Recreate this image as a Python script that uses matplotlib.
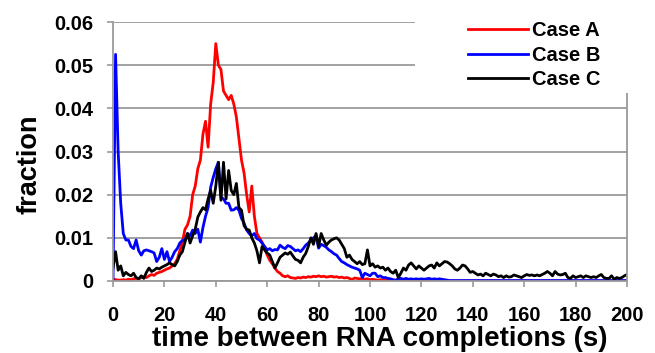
import numpy as np
import matplotlib
matplotlib.use("Agg")
import matplotlib.pyplot as plt
from matplotlib.patches import Rectangle

plt.rcParams['font.family'] = ['Liberation Sans', 'DejaVu Sans']

# time bins (s), 1 s wide
t = np.arange(0, 201)

case_a = [
    0.0005, 0.0003, 0.0002, 0.0002, 0.0003, 0.0002, 0.0004, 0.0003, 0.0005, 0.0006,
    0.0005, 0.0008, 0.0010, 0.0008, 0.0012, 0.0015, 0.0013, 0.0018, 0.0020, 0.0022,
    0.0025, 0.0028, 0.0030, 0.0035, 0.0040, 0.0050, 0.0070, 0.0090, 0.0120, 0.0130,
    0.0150, 0.0200, 0.0220, 0.0260, 0.0280, 0.0340, 0.0370, 0.0310, 0.0410, 0.0460,
    0.0550, 0.0500, 0.0490, 0.0440, 0.0430, 0.0420, 0.0430, 0.0410, 0.0380, 0.0330,
    0.0280, 0.0250, 0.0200, 0.0160, 0.0220, 0.0150, 0.0110, 0.0100, 0.0090, 0.0075,
    0.0060, 0.0048, 0.0040, 0.0030, 0.0022, 0.0018, 0.0012, 0.0010, 0.0012, 0.0008,
    0.0007, 0.0006, 0.0008, 0.0007, 0.0009, 0.0008, 0.0010, 0.0009, 0.0011, 0.0010,
    0.0012, 0.0010, 0.0011, 0.0009, 0.0010, 0.0011, 0.0009, 0.0010, 0.0008, 0.0009,
    0.0007, 0.0008, 0.0006, 0.0003, 0.0007, 0.0006, 0.0005, 0.0006, 0.0004, 0.0005,
    0.0003, 0.0004, 0.0003, 0.0002, 0.0003, 0.0002, 0.0001, 0.0002, 0.0001, 0.0001,
    0.0001, 0.0001, 0.0000, 0.0001, 0.0000, 0.0000, 0.0001, 0.0000, 0.0000, 0.0002,
    0.0001, 0.0000, 0.0000, 0.0000, 0.0000, 0.0000, 0.0000, 0.0000, 0.0000, 0.0000,
    0.0000, 0.0000, 0.0000, 0.0000, 0.0000, 0.0000, 0.0000, 0.0000, 0.0000, 0.0000,
    0.0000, 0.0000, 0.0000, 0.0000, 0.0000, 0.0000, 0.0000, 0.0000, 0.0000, 0.0000,
    0.0000, 0.0000, 0.0000, 0.0000, 0.0000, 0.0000, 0.0000, 0.0000, 0.0000, 0.0000,
    0.0000, 0.0000, 0.0000, 0.0000, 0.0000, 0.0000, 0.0000, 0.0000, 0.0000, 0.0000,
    0.0000, 0.0000, 0.0000, 0.0000, 0.0000, 0.0000, 0.0000, 0.0000, 0.0000, 0.0000,
    0.0000, 0.0000, 0.0000, 0.0000, 0.0000, 0.0000, 0.0000, 0.0000, 0.0000, 0.0000,
    0.0000, 0.0000, 0.0000, 0.0000, 0.0000, 0.0000, 0.0000, 0.0000, 0.0000, 0.0000,
    0.0000,
]

case_b = [
    0.0000, 0.0525, 0.0300, 0.0180, 0.0110, 0.0095, 0.0095, 0.0080, 0.0075, 0.0095,
    0.0070, 0.0060, 0.0070, 0.0072, 0.0070, 0.0068, 0.0065, 0.0045, 0.0055, 0.0075,
    0.0050, 0.0068, 0.0045, 0.0055, 0.0068, 0.0075, 0.0088, 0.0094, 0.0095, 0.0110,
    0.0105, 0.0118, 0.0110, 0.0120, 0.0090, 0.0124, 0.0150, 0.0170, 0.0217, 0.0240,
    0.0260, 0.0275, 0.0195, 0.0190, 0.0180, 0.0180, 0.0164, 0.0165, 0.0170, 0.0164,
    0.0145, 0.0134, 0.0118, 0.0110, 0.0105, 0.0110, 0.0098, 0.0095, 0.0088, 0.0080,
    0.0072, 0.0075, 0.0070, 0.0073, 0.0072, 0.0083, 0.0078, 0.0075, 0.0082, 0.0080,
    0.0075, 0.0070, 0.0072, 0.0068, 0.0075, 0.0083, 0.0088, 0.0095, 0.0100, 0.0105,
    0.0076, 0.0085, 0.0082, 0.0078, 0.0072, 0.0068, 0.0063, 0.0060, 0.0052, 0.0045,
    0.0042, 0.0038, 0.0035, 0.0032, 0.0030, 0.0028, 0.0025, 0.0008, 0.0018, 0.0015,
    0.0012, 0.0018, 0.0018, 0.0010, 0.0012, 0.0008, 0.0008, 0.0006, 0.0005, 0.0003,
    0.0002, 0.0005, 0.0006, 0.0004, 0.0006, 0.0004, 0.0005, 0.0004, 0.0005, 0.0004,
    0.0005, 0.0004, 0.0005, 0.0006, 0.0004, 0.0005, 0.0004, 0.0005, 0.0004, 0.0003,
    0.0002, 0.0001, 0.0001, 0.0001, 0.0001, 0.0001, 0.0001, 0.0001, 0.0001, 0.0001,
    0.0001, 0.0001, 0.0001, 0.0001, 0.0001, 0.0001, 0.0001, 0.0001, 0.0001, 0.0001,
    0.0001, 0.0001, 0.0001, 0.0001, 0.0001, 0.0001, 0.0001, 0.0001, 0.0001, 0.0001,
    0.0001, 0.0001, 0.0001, 0.0001, 0.0001, 0.0001, 0.0001, 0.0001, 0.0001, 0.0001,
    0.0001, 0.0001, 0.0001, 0.0001, 0.0001, 0.0001, 0.0001, 0.0001, 0.0001, 0.0001,
    0.0001, 0.0001, 0.0001, 0.0001, 0.0001, 0.0001, 0.0001, 0.0001, 0.0001, 0.0001,
    0.0001, 0.0001, 0.0001, 0.0001, 0.0001, 0.0001, 0.0001, 0.0001, 0.0001, 0.0001,
    0.0001,
]

case_c = [
    0.0030, 0.0068, 0.0025, 0.0035, 0.0012, 0.0020, 0.0015, 0.0012, 0.0018, 0.0008,
    0.0005, 0.0012, 0.0006, 0.0020, 0.0030, 0.0022, 0.0025, 0.0030, 0.0028, 0.0032,
    0.0035, 0.0038, 0.0042, 0.0038, 0.0035, 0.0045, 0.0060, 0.0068, 0.0090, 0.0110,
    0.0088, 0.0105, 0.0120, 0.0148, 0.0160, 0.0170, 0.0165, 0.0190, 0.0210, 0.0180,
    0.0220, 0.0275, 0.0187, 0.0275, 0.0190, 0.0256, 0.0210, 0.0200, 0.0226, 0.0170,
    0.0164, 0.0128, 0.0120, 0.0118, 0.0100, 0.0088, 0.0070, 0.0042, 0.0080, 0.0072,
    0.0065, 0.0060, 0.0045, 0.0030, 0.0042, 0.0055, 0.0060, 0.0065, 0.0062, 0.0067,
    0.0058, 0.0050, 0.0048, 0.0042, 0.0055, 0.0064, 0.0080, 0.0100, 0.0085, 0.0110,
    0.0080, 0.0110, 0.0095, 0.0083, 0.0090, 0.0095, 0.0098, 0.0100, 0.0095, 0.0085,
    0.0075, 0.0055, 0.0060, 0.0050, 0.0045, 0.0040, 0.0045, 0.0038, 0.0040, 0.0072,
    0.0035, 0.0040, 0.0032, 0.0035, 0.0030, 0.0032, 0.0025, 0.0030, 0.0022, 0.0018,
    0.0025, 0.0008, 0.0018, 0.0030, 0.0025, 0.0037, 0.0042, 0.0035, 0.0028, 0.0035,
    0.0030, 0.0025, 0.0030, 0.0035, 0.0037, 0.0030, 0.0042, 0.0035, 0.0040, 0.0045,
    0.0044, 0.0040, 0.0035, 0.0028, 0.0025, 0.0030, 0.0037, 0.0035, 0.0028, 0.0020,
    0.0022, 0.0018, 0.0014, 0.0016, 0.0012, 0.0018, 0.0015, 0.0012, 0.0016, 0.0014,
    0.0010, 0.0012, 0.0008, 0.0012, 0.0009, 0.0010, 0.0014, 0.0012, 0.0010, 0.0008,
    0.0012, 0.0015, 0.0013, 0.0014, 0.0012, 0.0014, 0.0012, 0.0015, 0.0018, 0.0022,
    0.0018, 0.0012, 0.0022, 0.0016, 0.0014, 0.0015, 0.0018, 0.0008, 0.0006, 0.0012,
    0.0008, 0.0010, 0.0012, 0.0008, 0.0012, 0.0010, 0.0008, 0.0010, 0.0008, 0.0012,
    0.0015, 0.0008, 0.0006, 0.0006, 0.0012, 0.0004, 0.0008, 0.0006, 0.0008, 0.0012,
    0.0015,
]

labels = ['Case A', 'Case B', 'Case C']
colors = ['#ff0000', '#0000ff', '#000000']

fig = plt.figure(figsize=(6.55, 3.53), dpi=100)
ax = fig.add_axes([113 / 655, 72 / 353, 514 / 655, 259 / 353])

for y, lab, col in zip([case_a, case_b, case_c], labels, colors):
    ax.plot(t, y, color=col, linewidth=2.0, label=lab, zorder=2)

ax.set_xlim(0, 200)
ax.set_ylim(0, 0.06)
ax.set_xticks(np.arange(0, 201, 20))
ax.set_yticks([0, 0.01, 0.02, 0.03, 0.04, 0.05, 0.06])
ax.set_yticklabels(['0', '0.01', '0.02', '0.03', '0.04', '0.05', '0.06'])

grey = '#9a9a9a'
ax.yaxis.grid(True, color=grey, linewidth=1.3)
ax.set_axisbelow(True)
for side in ['left', 'bottom', 'right']:
    ax.spines[side].set_color(grey)
    ax.spines[side].set_linewidth(1.3)
ax.spines['top'].set_visible(False)
ax.tick_params(axis='both', colors=grey, length=4, width=1.2, labelsize=14.5)
ax.tick_params(axis='x', pad=14)
ax.tick_params(axis='y', pad=10)
for lbl in ax.get_xticklabels() + ax.get_yticklabels():
    lbl.set_color('black')
    lbl.set_fontweight('bold')

ax.set_xlabel('time between RNA completions (s)', fontsize=20, fontweight='bold')
ax.set_ylabel('fraction', fontsize=19.5, fontweight='bold')
ax.yaxis.set_label_coords(-0.138, 0.45)
ax.xaxis.set_label_coords(0.518, -0.175)

# white box behind the legend hides the top grid lines and the right spine
cover = Rectangle((415 / 655, 1 - 93 / 353), 1, 1, transform=fig.transFigure,
                  facecolor='white', edgecolor='none', zorder=5, clip_on=False)
ax.add_patch(cover)

leg = ax.legend(loc='upper left', bbox_to_anchor=(458 / 655, 1 - 11 / 353),
                bbox_transform=fig.transFigure, frameon=False,
                handlelength=3.0, handletextpad=0.15, labelspacing=0.28,
                borderpad=0, prop={'weight': 'bold', 'size': 14.5})
leg.set_zorder(6)

fig.savefig('out.png', dpi=100)
